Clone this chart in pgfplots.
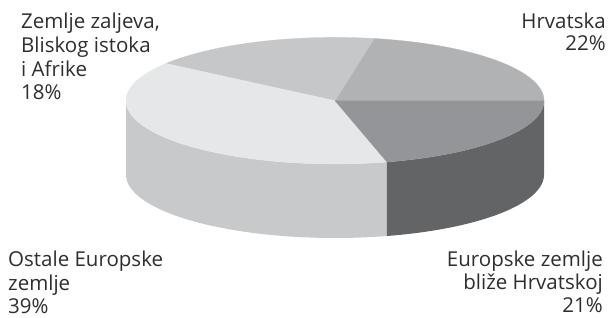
\documentclass[border=0pt]{standalone}
\usepackage{pgfplots}
\pgfplotsset{compat=1.18}
\usepgfplotslibrary{fillbetween}
\usepackage{fontspec}
\setmainfont{Open Sans}
\definecolor{cHr}{HTML}{B1B2B4}
\definecolor{cZe}{HTML}{C6C7C9}
\definecolor{cOs}{HTML}{E6E7E8}
\definecolor{cOsS}{HTML}{C8C9CB}
\definecolor{cEu}{HTML}{939598}
\definecolor{cEuS}{HTML}{636466}
\definecolor{txt}{HTML}{2E2E2E}
\newcommand{\pcx}{335}
\newcommand{\pcy}{217.3}
\newcommand{\pa}{209}
\newcommand{\pb}{63.3}
\newcommand{\pd}{74}
\newcommand{\lab}{\fontsize{20.5}{24}\selectfont}
\begin{document}
\begin{tikzpicture}
\begin{axis}[hide axis, scale only axis, width=610pt, height=318pt,
  xmin=0, xmax=610, ymin=0, ymax=318, clip=false, samples=90]
\path (axis cs:0,0) rectangle (axis cs:610,318);
% shares (percent): Hrvatska 22, Zemlje zaljeva 18, Ostale Europske 39, Europske bliže 21
% sides (front half only visible)
\addplot[draw=none, name path=t1, domain=180:284.4] ({\pcx+\pa*cos(x)},{\pcy+\pb*sin(x)});
\addplot[draw=none, name path=b1, domain=180:284.4] ({\pcx+\pa*cos(x)},{\pcy-\pd+\pb*sin(x)});
\addplot[fill=cOsS, draw=none] fill between[of=t1 and b1];
\addplot[draw=none, name path=t2, domain=284.4:360] ({\pcx+\pa*cos(x)},{\pcy+\pb*sin(x)});
\addplot[draw=none, name path=b2, domain=284.4:360] ({\pcx+\pa*cos(x)},{\pcy-\pd+\pb*sin(x)});
\addplot[fill=cEuS, draw=none] fill between[of=t2 and b2];
% top face
\addplot[fill=cHr, draw=cHr, line width=0.3pt, domain=0:79.2] ({\pcx+\pa*cos(x)},{\pcy+\pb*sin(x)}) -- (axis cs:\pcx,\pcy) -- cycle;
\addplot[fill=cZe, draw=cZe, line width=0.3pt, domain=79.2:144] ({\pcx+\pa*cos(x)},{\pcy+\pb*sin(x)}) -- (axis cs:\pcx,\pcy) -- cycle;
\addplot[fill=cOs, draw=cOs, line width=0.3pt, domain=144:284.4] ({\pcx+\pa*cos(x)},{\pcy+\pb*sin(x)}) -- (axis cs:\pcx,\pcy) -- cycle;
\addplot[fill=cEu, draw=cEu, line width=0.3pt, domain=284.4:360] ({\pcx+\pa*cos(x)},{\pcy+\pb*sin(x)}) -- (axis cs:\pcx,\pcy) -- cycle;
% labels
\node[anchor=base west, font=\lab, text=txt, inner sep=0pt] at (axis cs:21,289.7) {Zemlje zaljeva,};
\node[anchor=base west, font=\lab, text=txt, inner sep=0pt] at (axis cs:21,265.7) {Bliskog istoka};
\node[anchor=base west, font=\lab, text=txt, inner sep=0pt] at (axis cs:21,241.7) {i Afrike};
\node[anchor=base west, font=\lab, text=txt, inner sep=0pt] at (axis cs:21,218) {18\%};
\node[anchor=base east, font=\lab, text=txt, inner sep=0pt] at (axis cs:606,289.7) {Hrvatska};
\node[anchor=base east, font=\lab, text=txt, inner sep=0pt] at (axis cs:606,267) {22\%};
\node[anchor=base west, font=\lab, text=txt, inner sep=0pt] at (axis cs:8,51) {Ostale Europske};
\node[anchor=base west, font=\lab, text=txt, inner sep=0pt] at (axis cs:8,27.5) {zemlje};
\node[anchor=base west, font=\lab, text=txt, inner sep=0pt] at (axis cs:8,4) {39\%};
\node[anchor=base east, font=\lab, text=txt, inner sep=0pt] at (axis cs:603,51) {Europske zemlje};
\node[anchor=base east, font=\lab, text=txt, inner sep=0pt] at (axis cs:603,28.5) {bliže Hrvatskoj};
\node[anchor=base east, font=\lab, text=txt, inner sep=0pt] at (axis cs:603,5) {21\%};
\end{axis}
\end{tikzpicture}
\end{document}
